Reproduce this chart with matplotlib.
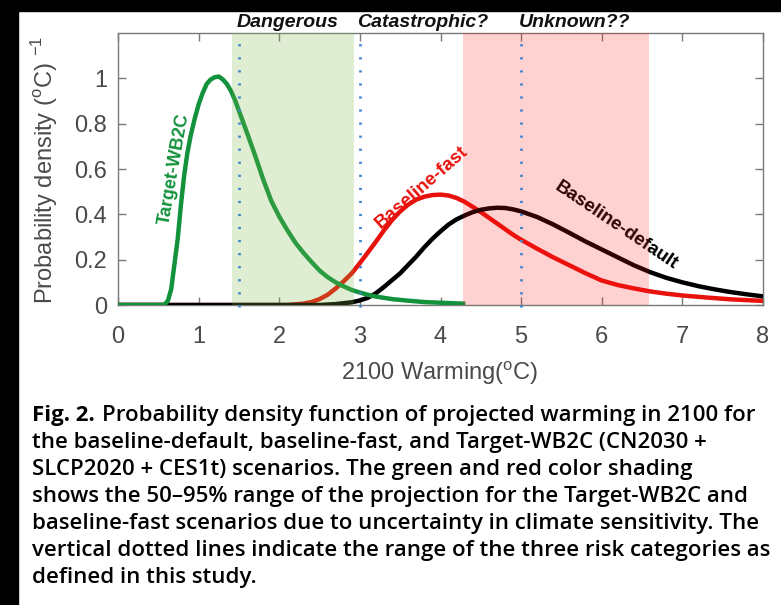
import matplotlib
matplotlib.use("Agg")
import matplotlib.pyplot as plt
from matplotlib.patches import Rectangle

# warming (deg C) and probability density
target_x = [0, 0.55, 0.58, 0.62, 0.66, 0.70, 0.74, 0.78, 0.82, 0.86, 0.90, 0.95,
            1.00, 1.05, 1.10, 1.15, 1.20, 1.25, 1.30, 1.35, 1.40, 1.45, 1.50,
            1.60, 1.70, 1.80, 1.90, 2.00, 2.10, 2.20, 2.30, 2.40, 2.50, 2.60,
            2.70, 2.80, 2.90, 3.00, 3.10, 3.20, 3.40, 3.60, 3.80, 4.00, 4.28]
target_y = [0, 0, 0.003, 0.02, 0.07, 0.18, 0.29, 0.44, 0.57, 0.67, 0.745, 0.82,
            0.885, 0.935, 0.975, 0.995, 1.005, 1.008, 0.995, 0.975, 0.945, 0.905, 0.857,
            0.76, 0.66, 0.555, 0.46, 0.39, 0.33, 0.275, 0.23, 0.19, 0.152, 0.123,
            0.10, 0.082, 0.066, 0.055, 0.045, 0.037, 0.026, 0.019, 0.013, 0.01, 0.006]

fast_x = [0, 2.1, 2.3, 2.4, 2.5, 2.6, 2.7, 2.8, 2.9, 3.0, 3.1, 3.2, 3.3, 3.4, 3.5,
          3.6, 3.7, 3.8, 3.9, 4.0, 4.1, 4.2, 4.3, 4.4, 4.5, 4.6, 4.7, 4.8, 4.9,
          5.0, 5.2, 5.4, 5.6, 5.8, 6.0, 6.2, 6.4, 6.6, 6.8, 7.0, 7.3, 7.6, 8.0]
fast_y = [0, 0, 0.006, 0.013, 0.026, 0.045, 0.073, 0.105, 0.14, 0.185, 0.232, 0.28,
          0.33, 0.375, 0.413, 0.443, 0.465, 0.478, 0.485, 0.487, 0.483, 0.472, 0.455,
          0.433, 0.41, 0.385, 0.36, 0.335, 0.31, 0.288, 0.248, 0.21, 0.175, 0.14,
          0.108, 0.088, 0.073, 0.06, 0.05, 0.042, 0.033, 0.025, 0.018]

default_x = [0, 2.5, 2.7, 2.9, 3.0, 3.1, 3.2, 3.3, 3.4, 3.5, 3.6, 3.7, 3.8, 3.9,
             4.0, 4.1, 4.2, 4.3, 4.4, 4.5, 4.6, 4.7, 4.8, 4.9, 5.0, 5.2, 5.4, 5.6,
             5.8, 6.0, 6.2, 6.4, 6.6, 6.8, 7.0, 7.2, 7.4, 7.6, 7.8, 8.0]
default_y = [0, 0, 0.004, 0.012, 0.02, 0.032, 0.052, 0.08, 0.11, 0.14, 0.177, 0.214,
             0.255, 0.292, 0.325, 0.355, 0.378, 0.395, 0.41, 0.42, 0.426, 0.429, 0.428,
             0.422, 0.413, 0.388, 0.355, 0.318, 0.28, 0.245, 0.21, 0.175, 0.145, 0.12,
             0.1, 0.083, 0.069, 0.057, 0.047, 0.038]

# 50-95% ranges and risk category limits
green_range = [1.41, 2.93]
red_range = [4.28, 6.58]
risk_lines = [1.5, 3.0, 5.0]
risk_names = ["Dangerous", "Catastrophic?", "Unknown??"]

caption_first = "Probability density function of projected warming in 2100 for"
caption_lines = [
    "the baseline-default, baseline-fast, and Target-WB2C (CN2030 +",
    "SLCP2020 + CES1t) scenarios. The green and red color shading",
    "shows the 50\u201395% range of the projection for the Target-WB2C and",
    "baseline-fast scenarios due to uncertainty in climate sensitivity. The",
    "vertical dotted lines indicate the range of the three risk categories as",
    "defined in this study.",
]

W, H = 781, 605
plt.rcParams['font.family'] = ['Liberation Sans', 'DejaVu Sans']
plt.rcParams['mathtext.fontset'] = 'custom'
plt.rcParams['mathtext.rm'] = 'Liberation Sans'

fig = plt.figure(figsize=(W / 100, H / 100), dpi=100)

# black frame strips on the left and top
fig.patches.append(Rectangle((0, 0), 18 / W, 1, transform=fig.transFigure,
                             color='black', zorder=-1))
fig.patches.append(Rectangle((0, 1 - 11 / H), 1, 11 / H, transform=fig.transFigure,
                             color='black', zorder=-1))

ax = fig.add_axes([118 / W, 1 - 305 / H, 645 / W, 272 / H])

ax.plot(fast_x, fast_y, color='#e8120c', lw=3.2, zorder=2)
ax.plot(default_x, default_y, color='black', lw=3.2, zorder=3)
ax.plot(target_x, target_y, color='#13923c', lw=3.2, zorder=4)

ax.axvspan(green_range[0], green_range[1], color='#7db64a', alpha=0.24, lw=0, zorder=5)
ax.axvspan(red_range[0], red_range[1], color='#ff1010', alpha=0.19, lw=0, zorder=5)

for xv in risk_lines:
    ax.plot([xv, xv], [-0.01, 1.2], color='#3f86cc', lw=2.0,
            linestyle=(0, (0.8, 3.9)), zorder=6, clip_on=False)

for xv, name in zip(risk_lines, risk_names):
    ax.text(xv - 0.03, 1.225, name, fontsize=14, fontweight='bold', style='italic',
            ha='left', va='baseline', color='#111111')

ax.text(0.7, 0.6, "Target-WB2C", color='#13923c', fontsize=13, fontweight='bold',
        rotation=80, ha='center', va='center')
ax.text(3.77, 0.52, "Baseline-fast", color='#e8120c', fontsize=13.5, fontweight='bold',
        rotation=41, ha='center', va='center')
ax.text(6.18, 0.35, "Baseline-default", color='black', fontsize=13.5, fontweight='bold',
        rotation=-34, ha='center', va='center')

ax.set_xlim(0, 8)
ax.set_ylim(0, 1.2)
ax.set_xticks(range(0, 9))
ax.set_yticks([0, 0.2, 0.4, 0.6, 0.8, 1])
ax.set_yticklabels(["0", "0.2", "0.4", "0.6", "0.8", "1"])
ax.tick_params(direction='in', length=6, width=1, colors='#7a7a7a', labelcolor='#4a4a4a',
               labelsize=17, top=True, right=True, pad=8)
ax.tick_params(axis='x', pad=15)
for sp in ax.spines.values():
    sp.set_color('#7a7a7a')
    sp.set_linewidth(1)

fig.text(440 / W, 1 - 373 / H, r"2100 Warming($^{\rm o}$C)", fontsize=17,
         color='#4a4a4a', ha='center', va='center')
fig.text(45 / W, 1 - 170 / H, r"Probability density ($^{\rm o}$C) $^{-1}$", fontsize=17,
         color='#4a4a4a', ha='center', va='center', rotation=90)

# caption, font size fitted so the first line spans the same width as the original
cap_fam = ['Open Sans', 'DejaVu Sans']
y0 = 416
step = 26.9
size = 15.0
renderer = fig.canvas.get_renderer()
probe = fig.text(0, 0, "Fig. 2. " + caption_first, family=cap_fam, fontsize=size,
                 fontweight='semibold')
wpx = probe.get_window_extent(renderer).width
probe.remove()
size = size * 721 / wpx

t = fig.text(32 / W, 1 - y0 / H, "Fig. 2.", family=cap_fam, fontsize=size,
             fontweight='bold', va='center', color='black')
bb = t.get_window_extent(renderer)
fig.text((bb.x1 + 7) / W, 1 - y0 / H, caption_first, family=cap_fam, fontsize=size,
         fontweight='semibold', va='center', color='black')
for i, line in enumerate(caption_lines):
    fig.text(32 / W, 1 - (y0 + step * (i + 1)) / H, line, family=cap_fam, fontsize=size,
             fontweight='semibold', va='center', color='black')

fig.savefig("out.png", dpi=100)
